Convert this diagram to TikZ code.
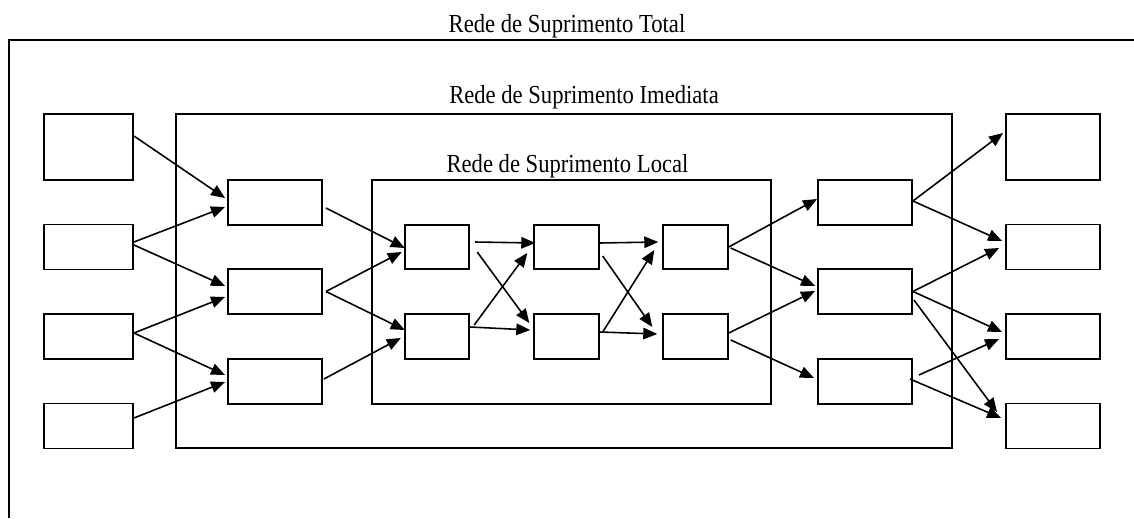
\documentclass[tikz,border=0pt]{standalone}
\usepackage{fontspec}
\setmainfont[FakeStretch=0.87]{Liberation Serif}
\usetikzlibrary{arrows.meta}

\begin{document}
\begin{tikzpicture}[x=0.02cm, y=-0.02cm,
	box/.style = {draw, rectangle, line width=1.1pt, inner sep=0pt, minimum height=0.9cm},
	wide/.style = {box, minimum width=1.88cm},
	narrow/.style = {box, minimum width=1.78cm},
	small/.style = {box, minimum width=1.29cm, minimum height=0.89cm},
	tall/.style = {minimum height=1.32cm},
	frame/.style = {line width=1.1pt},
	title/.style = {anchor=base, inner sep=0pt, font=\fontsize{14.8pt}{17pt}\selectfont},
	>={Triangle[length=0.28cm, width=0.23cm]}]
				\useasboundingbox (0,0) rectangle (1134,518);
				% the three nested networks
				\draw[frame] (1134,40) -- (9,40) -- (9,518);
				\draw[frame] (176,114) rectangle (952,448);
				\draw[frame] (372,180) rectangle (771,404);
				\node[title] (total) at (567,32) {Rede de Suprimento Total};
				\node[title] (imediata) at (584,103) {Rede de Suprimento Imediata};
				\node[title] (local) at (567.5,172) {Rede de Suprimento Local};
				% suppliers on the left
				\node[narrow, tall] (L1) at (88.5,147) {};
				\node[narrow] (L2) at (88.5,247) {};
				\node[narrow] (L3) at (88.5,336.5) {};
				\node[narrow] (L4) at (88.5,426) {};
				\node[wide] (A1) at (275,202.5) {};
				\node[wide] (A2) at (275,291.5) {};
				\node[wide] (A3) at (275,381.5) {};
				% local chain
				\node[small] (B1) at (437,247) {};
				\node[small] (B2) at (437,336.5) {};
				\node[small] (C1) at (566.5,247) {};
				\node[small] (C2) at (566.5,336.5) {};
				\node[small] (D1) at (695.5,247) {};
				\node[small] (D2) at (695.5,336.5) {};
				% customers on the right
				\node[wide] (E1) at (865,202.5) {};
				\node[wide] (E2) at (865,291.5) {};
				\node[wide] (E3) at (865,381.5) {};
				\node[wide, tall] (R1) at (1053,147) {};
				\node[wide] (R2) at (1053,247) {};
				\node[wide] (R3) at (1053,336.5) {};
				\node[wide] (R4) at (1053,426) {};
				\begin{scope}[line width=0.9pt]
				\draw[->] ([shift={(0,-11)}]L1.east) -- ([shift={(-2,-4.5)}]A1.west);
				\draw[->] ([shift={(0,-5)}]L2.east) -- ([shift={(-2,4.5)}]A1.west);
				\draw[->] ([shift={(0,-2)}]L2.east) -- ([shift={(-2,-5.5)}]A2.west);
				\draw[->] ([shift={(0,-3.5)}]L3.east) -- ([shift={(-2,5.5)}]A2.west);
				\draw[->] ([shift={(0,-3.5)}]L3.east) -- ([shift={(-2,-6.5)}]A3.west);
				\draw[->] ([shift={(0,-8)}]L4.east) -- ([shift={(-2,0.5)}]A3.west);
				\draw[->] ([shift={(3,5.5)}]A1.east) -- ([shift={(1,1)}]B1.west);
				\draw[->] ([shift={(3,0)}]A2.east) -- ([shift={(-2,5)}]B1.west);
				\draw[->] ([shift={(3,0)}]A2.east) -- ([shift={(1,-6.5)}]B2.west);
				\draw[->] ([shift={(1,-2.5)}]A3.east) -- ([shift={(-3,1.5)}]B2.west);
				\draw[->] ([shift={(5,-5)}]B1.east) -- ([shift={(2,-4)}]C1.west);
				\draw[->] ([shift={(7,5)}]B1.east) -- ([shift={(-4,-13.5)}]C2.west);
				\draw[->] ([shift={(4,-11.5)}]B2.east) -- ([shift={(-6,6)}]C1.west);
				\draw[->] ([shift={(0,-9.5)}]B2.east) -- ([shift={(-3,-6.5)}]C2.west);
				\draw[->] ([shift={(0,-4)}]C1.east) -- ([shift={(-4,-5)}]D1.west);
				\draw[->] ([shift={(3,9)}]C1.east) -- ([shift={(-10,-9.5)}]D2.west);
				\draw[->] ([shift={(3,-4.5)}]C2.east) -- ([shift={(-8,3)}]D1.west);
				\draw[->] ([shift={(0,-4.5)}]C2.east) -- ([shift={(-5,-2.5)}]D2.west);
				\draw[->] (D1.east) -- ([shift={(0,-3.5)}]E1.west);
				\draw[->] ([shift={(2,1)}]D1.east) -- ([shift={(-2,-5.5)}]E2.west);
				\draw[->] ([shift={(0,-3.5)}]D2.east) -- ([shift={(-2,-0.5)}]E2.west);
				\draw[->] ([shift={(2,3.5)}]D2.east) -- ([shift={(-3,-3.5)}]E3.west);
				\draw[->] ([shift={(0,-1.5)}]E1.east) -- ([shift={(-2,-14)}]R1.west);
				\draw[->] ([shift={(0,-1.5)}]E1.east) -- ([shift={(-3,-6)}]R2.west);
				\draw[->] (E2.east) -- ([shift={(-6,1)}]R2.west);
				\draw[->] (E2.east) -- ([shift={(-3,-4.5)}]R3.west);
				\draw[->] ([shift={(1,8.5)}]E2.east) -- ([shift={(-8,-14)}]R4.west);
				\draw[->] ([shift={(6,-6.5)}]E3.east) -- ([shift={(-6,2.5)}]R3.west);
				\draw[->] ([shift={(-3,-2.5)}]E3.east) -- ([shift={(-4,-8)}]R4.west);
				\end{scope}
			\end{tikzpicture}
\end{document}
